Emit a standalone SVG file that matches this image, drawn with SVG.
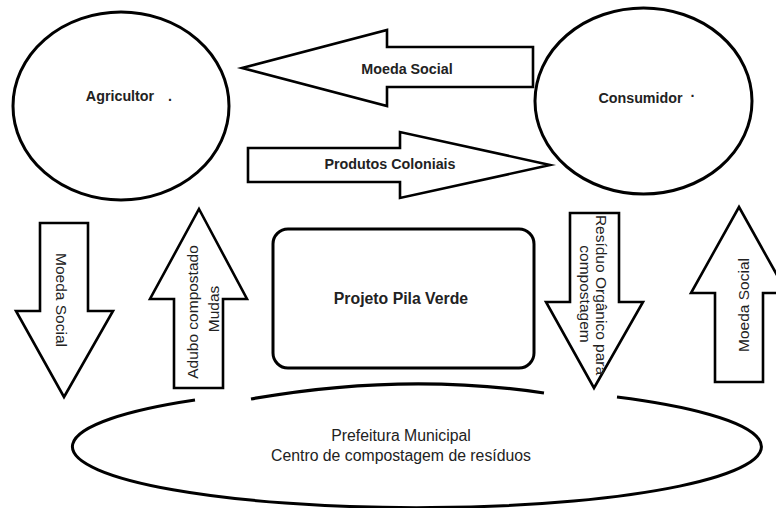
<svg xmlns="http://www.w3.org/2000/svg" width="776" height="508" viewBox="0 0 776 508">
<style>
.shape{fill:#fff;stroke:#000;stroke-width:3}
.arr{fill:#fff;stroke:#000;stroke-width:2.6;stroke-linejoin:miter;stroke-miterlimit:10}
.t{font-family:"Liberation Sans",Arial,sans-serif;fill:#222}
.b{font-weight:bold;font-size:14.3px;text-anchor:middle}
.r{font-size:15.5px;text-anchor:middle}
</style>
<rect width="776" height="508" fill="#fff"/>
<g id="agricultor">
<ellipse class="shape" cx="121" cy="106" rx="108" ry="94"/>
<text class="t b" x="120" y="101">Agricultor</text>
<text class="t b" x="170" y="101">.</text>
</g>
<g id="consumidor">
<ellipse class="shape" cx="643.5" cy="101" rx="108.5" ry="93"/>
<text class="t b" x="640.5" y="103">Consumidor</text>
<text class="t b" x="693" y="101">·</text>
</g>
<g id="projeto">
<rect class="shape" x="273" y="229" width="261" height="139" rx="15"/>
<text class="t" x="401" y="304" font-size="15.8" font-weight="bold" text-anchor="middle">Projeto Pila Verde</text>
</g>
<g id="prefeitura">
<path class="shape" fill="none" d="M195,400 A344.5,61 0 1,0 617,397" style="fill:none"/>
<path d="M251,399 Q402.5,372 544,393" fill="none" stroke="#000" stroke-width="3.2"/>
<text class="t" x="401" y="441" font-size="15.8" text-anchor="middle">Prefeitura Municipal</text>
<text class="t" x="401" y="461" font-size="15.8" text-anchor="middle">Centro de compostagem de resíduos</text>
</g>
<g id="connectors">
<g id="moeda-top">
<polygon class="arr" points="242,68 387,30 387,47 533,47 533,87 387,87 387,106"/>
<text class="t b" x="407" y="74">Moeda Social</text>
</g>
<g id="produtos">
<polygon class="arr" points="248,148 400,148 400,132 550,165 400,198 400,182 248,182"/>
<text class="t b" x="390" y="169">Produtos Coloniais</text>
</g>
<g id="moeda-left">
<polygon class="arr" points="40,223 88,223 88,311 113,311 64,397 16,311 40,311"/>
<text class="t r" transform="translate(55.5,300) rotate(90)">Moeda Social</text>
</g>
<g id="adubo">
<polygon class="arr" points="199,209 247,299 223,299 223,388 174,388 174,299 150,299"/>
<text class="t r" transform="translate(198,312) rotate(-90)">Adubo compostado</text>
<text class="t r" transform="translate(219,309) rotate(-90)">Mudas</text>
</g>
<g id="residuo">
<polygon class="arr" points="570,213 619,213 619,302 643,302 594,388 546,302 570,302"/>
<text class="t r" transform="translate(596,295) rotate(90)">Resíduo Orgânico para</text>
<text class="t r" transform="translate(580,294) rotate(90)">compostagem</text>
</g>
<g id="moeda-right">
<polygon class="arr" points="739,207 787,293 763,293 763,382 715,382 715,293 691,293"/>
<text class="t r" transform="translate(748.5,305) rotate(-90)">Moeda Social</text>
</g>
</g>
</svg>
